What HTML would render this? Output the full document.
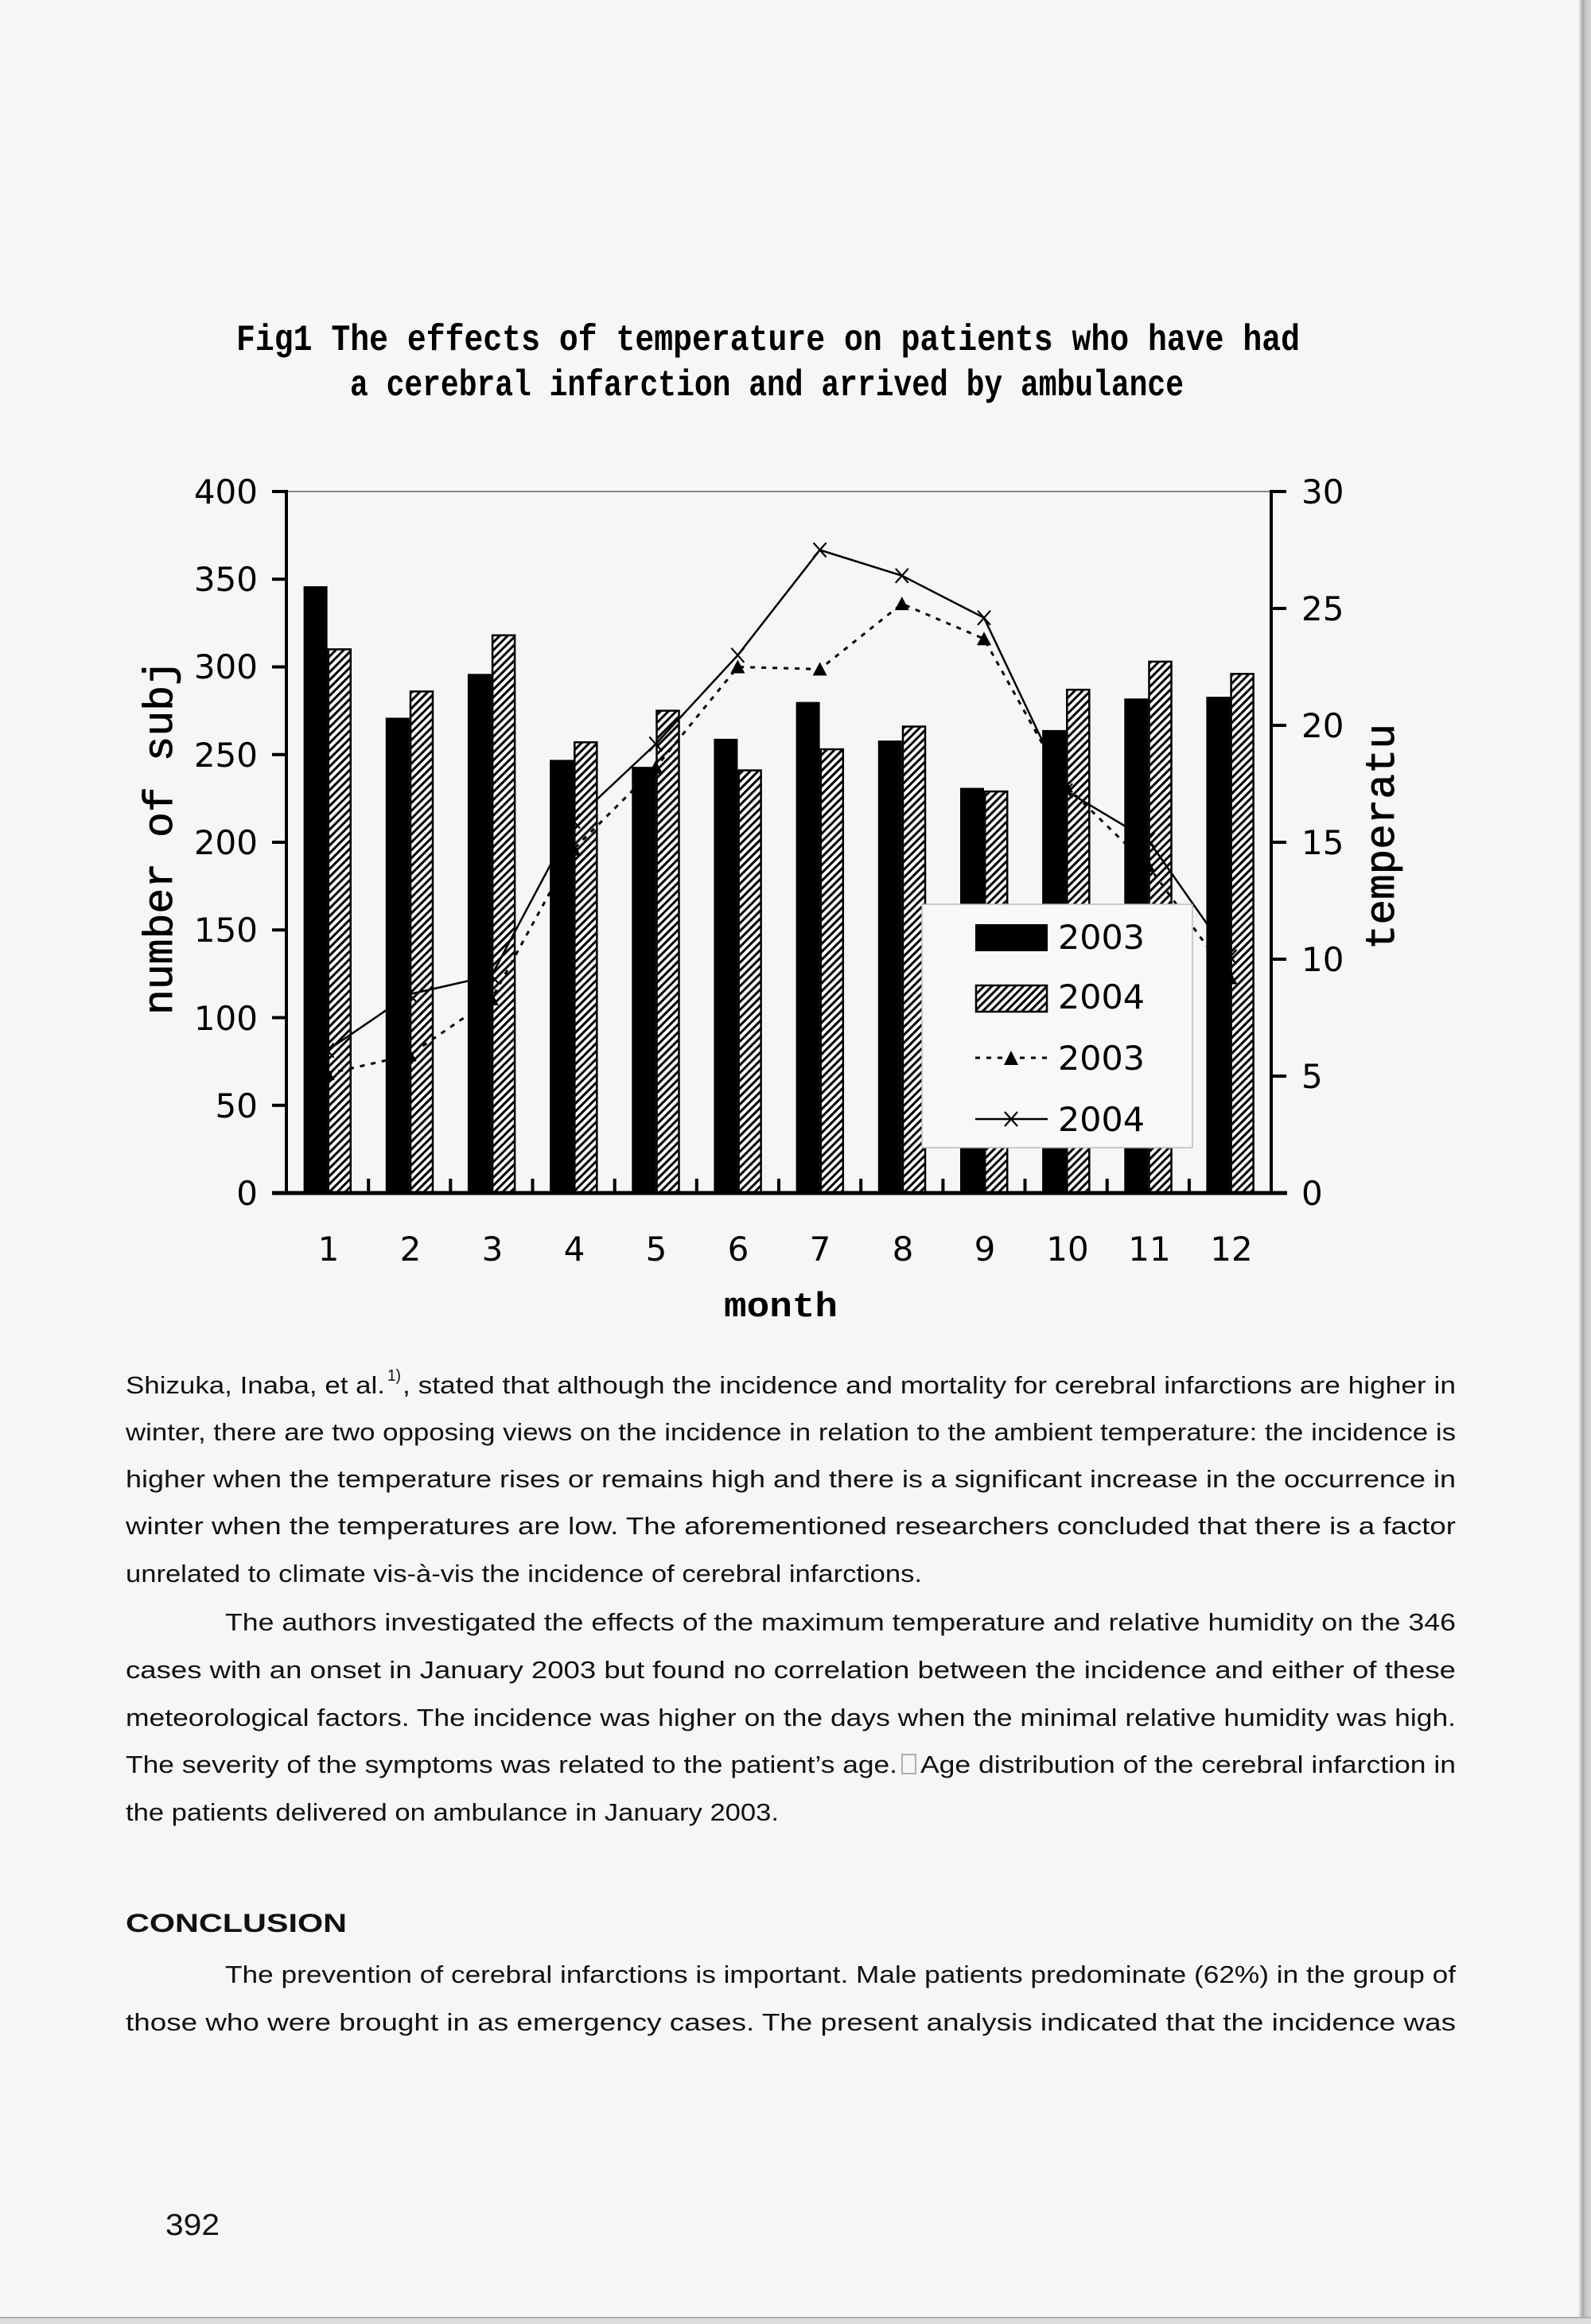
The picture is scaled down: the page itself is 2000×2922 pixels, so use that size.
<!DOCTYPE html>
<html>
<head>
<meta charset="utf-8">
<style>
html,body{margin:0;padding:0;background:#f6f6f6;}
svg{display:block;}
.title{font-family:"Liberation Mono",monospace;font-weight:bold;font-size:46px;fill:#000;}
.axt{font-family:"Liberation Mono",monospace;font-size:52px;fill:#000;stroke:#000;stroke-width:0.8;}
.mon{font-family:"Liberation Mono",monospace;font-weight:bold;font-size:44px;fill:#000;}
.ax{font-family:"DejaVu Sans","Liberation Sans",sans-serif;font-size:42px;fill:#000;}
.body{font-family:"Liberation Sans Narrow","Liberation Sans",Arial,sans-serif;font-size:31px;fill:#111;}
.bold{font-family:"Liberation Sans Narrow","Liberation Sans",Arial,sans-serif;font-size:32px;font-weight:bold;fill:#111;}
</style>
</head>
<body>
<svg width="2000" height="2922" viewBox="0 0 2000 2922" xmlns="http://www.w3.org/2000/svg">
<defs>
  <pattern id="h" patternUnits="userSpaceOnUse" width="7" height="7" patternTransform="rotate(45)">
    <rect x="0" y="0" width="7" height="7" fill="#fafafa"/>
    <rect x="0" y="0" width="3" height="7" fill="#000"/>
  </pattern>
  <linearGradient id="edge" x1="0" y1="0" x2="1" y2="0">
    <stop offset="0" stop-color="#f6f6f6"/>
    <stop offset="0.35" stop-color="#a8a8a8"/>
    <stop offset="0.55" stop-color="#c4c4c4"/>
    <stop offset="1" stop-color="#d6d6d6"/>
  </linearGradient>
</defs>
<rect x="0" y="0" width="2000" height="2922" fill="#f6f6f6"/>

<!-- Title -->
<text class="title" x="297" y="440" textLength="1337" lengthAdjust="spacingAndGlyphs">Fig1 The effects of temperature on patients who have had</text>
<text class="title" x="440" y="497" textLength="1048" lengthAdjust="spacingAndGlyphs">a cerebral infarction and arrived by ambulance</text>

<!-- plot top border -->
<line x1="360" y1="618" x2="1598" y2="618" stroke="#888" stroke-width="2"/>

<!-- 2003 bars (black) -->
<g fill="#000">
<rect x="381.6" y="737.1" width="30" height="762.9"/>
<rect x="484.8" y="902.4" width="30" height="597.6"/>
<rect x="587.9" y="847.3" width="30" height="652.7"/>
<rect x="691.1" y="955.4" width="30" height="544.6"/>
<rect x="794.3" y="964.2" width="30" height="535.8"/>
<rect x="897.4" y="928.9" width="30" height="571.1"/>
<rect x="1000.6" y="882.6" width="30" height="617.4"/>
<rect x="1103.8" y="931.1" width="30" height="568.9"/>
<rect x="1207.0" y="990.6" width="30" height="509.4"/>
<rect x="1310.1" y="917.9" width="30" height="582.1"/>
<rect x="1413.3" y="878.2" width="30" height="621.8"/>
<rect x="1516.4" y="876.0" width="30" height="624.0"/>
</g>
<!-- 2004 bars (hatched) -->
<g fill="url(#h)" stroke="#000" stroke-width="2.5">
<rect x="412.8" y="816.4" width="28" height="683.6"/>
<rect x="516.0" y="869.4" width="28" height="630.6"/>
<rect x="619.1" y="798.8" width="28" height="701.2"/>
<rect x="722.3" y="933.3" width="28" height="566.7"/>
<rect x="825.5" y="893.6" width="28" height="606.4"/>
<rect x="928.6" y="968.6" width="28" height="531.4"/>
<rect x="1031.8" y="942.1" width="28" height="557.9"/>
<rect x="1135.0" y="913.5" width="28" height="586.5"/>
<rect x="1238.2" y="995.1" width="28" height="504.9"/>
<rect x="1341.3" y="867.2" width="28" height="632.8"/>
<rect x="1444.5" y="831.9" width="28" height="668.1"/>
<rect x="1547.6" y="847.3" width="28" height="652.7"/>
</g>

<!-- 2003 temperature (dotted, triangles) -->
<polyline fill="none" stroke="#000" stroke-width="3" stroke-dasharray="6 8"
 points="411.6,1350.1 514.8,1326.5 617.9,1256.0 721.1,1067.8 824.3,964.9 927.4,838.5 1030.6,841.4 1133.8,759.1 1237.0,803.2 1340.1,988.4 1443.3,1088.4 1546.4,1229.5"/>
<g fill="#000">
<polygon points="402.6,1358.1 420.6,1358.1 411.6,1341.1"/>
<polygon points="505.8,1334.5 523.8,1334.5 514.8,1317.5"/>
<polygon points="608.9,1264.0 626.9,1264.0 617.9,1247.0"/>
<polygon points="712.1,1075.8 730.1,1075.8 721.1,1058.8"/>
<polygon points="815.3,972.9 833.3,972.9 824.3,955.9"/>
<polygon points="918.4,846.5 936.4,846.5 927.4,829.5"/>
<polygon points="1021.6,849.4 1039.6,849.4 1030.6,832.4"/>
<polygon points="1124.8,767.1 1142.8,767.1 1133.8,750.1"/>
<polygon points="1228.0,811.2 1246.0,811.2 1237.0,794.2"/>
<polygon points="1331.1,996.4 1349.1,996.4 1340.1,979.4"/>
<polygon points="1434.3,1096.4 1452.3,1096.4 1443.3,1079.4"/>
<polygon points="1537.4,1237.5 1555.4,1237.5 1546.4,1220.5"/>
</g>

<!-- 2004 temperature (solid, x markers) -->
<polyline fill="none" stroke="#000" stroke-width="2.5"
 points="411.6,1320.7 514.8,1250.1 617.9,1226.6 721.1,1032.5 824.3,935.5 927.4,823.8 1030.6,691.5 1133.8,723.8 1237.0,776.8 1340.1,994.3 1443.3,1056.1 1546.4,1203.1"/>
<g stroke="#000" stroke-width="2.2" fill="none">
<path d="M403.6 1311.7 L419.6 1329.7 M419.6 1311.7 L403.6 1329.7"/>
<path d="M506.8 1241.1 L522.8 1259.1 M522.8 1241.1 L506.8 1259.1"/>
<path d="M609.9 1217.6 L625.9 1235.6 M625.9 1217.6 L609.9 1235.6"/>
<path d="M713.1 1023.5 L729.1 1041.5 M729.1 1023.5 L713.1 1041.5"/>
<path d="M816.3 926.5 L832.3 944.5 M832.3 926.5 L816.3 944.5"/>
<path d="M919.4 814.8 L935.4 832.8 M935.4 814.8 L919.4 832.8"/>
<path d="M1022.6 682.5 L1038.6 700.5 M1038.6 682.5 L1022.6 700.5"/>
<path d="M1125.8 714.8 L1141.8 732.8 M1141.8 714.8 L1125.8 732.8"/>
<path d="M1229.0 767.8 L1245.0 785.8 M1245.0 767.8 L1229.0 785.8"/>
<path d="M1332.1 985.3 L1348.1 1003.3 M1348.1 985.3 L1332.1 1003.3"/>
<path d="M1435.3 1047.1 L1451.3 1065.1 M1451.3 1047.1 L1435.3 1065.1"/>
<path d="M1538.4 1194.1 L1554.4 1212.1 M1554.4 1194.1 L1538.4 1212.1"/>
</g>

<!-- Axes -->
<g stroke="#000" stroke-width="4" fill="none">
<line x1="360" y1="616" x2="360" y2="1502"/>
<line x1="1598" y1="616" x2="1598" y2="1502"/>
<line x1="342" y1="1500" x2="1618" y2="1500" stroke-width="5"/>
<!-- left ticks -->
<line x1="342" y1="618" x2="360" y2="618"/>
<line x1="342" y1="728.25" x2="360" y2="728.25"/>
<line x1="342" y1="838.5" x2="360" y2="838.5"/>
<line x1="342" y1="948.75" x2="360" y2="948.75"/>
<line x1="342" y1="1059" x2="360" y2="1059"/>
<line x1="342" y1="1169.25" x2="360" y2="1169.25"/>
<line x1="342" y1="1279.5" x2="360" y2="1279.5"/>
<line x1="342" y1="1389.75" x2="360" y2="1389.75"/>
<!-- right ticks -->
<line x1="1598" y1="618" x2="1617" y2="618"/>
<line x1="1598" y1="765" x2="1617" y2="765"/>
<line x1="1598" y1="912" x2="1617" y2="912"/>
<line x1="1598" y1="1059" x2="1617" y2="1059"/>
<line x1="1598" y1="1206" x2="1617" y2="1206"/>
<line x1="1598" y1="1353" x2="1617" y2="1353"/>
<!-- category ticks -->
<line x1="463.2" y1="1482" x2="463.2" y2="1500"/>
<line x1="566.3" y1="1482" x2="566.3" y2="1500"/>
<line x1="669.5" y1="1482" x2="669.5" y2="1500"/>
<line x1="772.7" y1="1482" x2="772.7" y2="1500"/>
<line x1="875.8" y1="1482" x2="875.8" y2="1500"/>
<line x1="979.0" y1="1482" x2="979.0" y2="1500"/>
<line x1="1082.2" y1="1482" x2="1082.2" y2="1500"/>
<line x1="1185.4" y1="1482" x2="1185.4" y2="1500"/>
<line x1="1288.5" y1="1482" x2="1288.5" y2="1500"/>
<line x1="1391.7" y1="1482" x2="1391.7" y2="1500"/>
<line x1="1494.9" y1="1482" x2="1494.9" y2="1500"/>
</g>

<!-- left tick labels -->
<g class="ax" text-anchor="end">
<text x="324" y="633">400</text>
<text x="324" y="743">350</text>
<text x="324" y="853">300</text>
<text x="324" y="964">250</text>
<text x="324" y="1074">200</text>
<text x="324" y="1184">150</text>
<text x="324" y="1295">100</text>
<text x="324" y="1405">50</text>
<text x="324" y="1515">0</text>
</g>
<!-- right tick labels -->
<g class="ax" text-anchor="start">
<text x="1636" y="633">30</text>
<text x="1636" y="780">25</text>
<text x="1636" y="927">20</text>
<text x="1636" y="1074">15</text>
<text x="1636" y="1221">10</text>
<text x="1636" y="1368">5</text>
<text x="1636" y="1515">0</text>
</g>
<!-- x labels -->
<g class="ax" text-anchor="middle">
<text x="413" y="1585">1</text>
<text x="516" y="1585">2</text>
<text x="619" y="1585">3</text>
<text x="722" y="1585">4</text>
<text x="825" y="1585">5</text>
<text x="928" y="1585">6</text>
<text x="1031" y="1585">7</text>
<text x="1135" y="1585">8</text>
<text x="1238" y="1585">9</text>
<text x="1342" y="1585">10</text>
<text x="1445" y="1585">11</text>
<text x="1548" y="1585">12</text>
</g>

<!-- axis titles -->
<text class="axt" transform="translate(216,1053) rotate(-90)" text-anchor="middle" textLength="446" lengthAdjust="spacingAndGlyphs">number of subj</text>
<text class="axt" transform="translate(1752,1052) rotate(-90)" text-anchor="middle" textLength="284" lengthAdjust="spacingAndGlyphs">temperatu</text>
<text class="mon" x="910" y="1655" textLength="143" lengthAdjust="spacingAndGlyphs">month</text>

<!-- Legend -->
<rect x="1159" y="1137" width="340" height="306" fill="#f8f8f8" stroke="#bbb" stroke-width="1.5"/>
<rect x="1226" y="1162" width="91" height="34" fill="#000"/>
<rect x="1227" y="1239" width="89" height="33" fill="url(#h)" stroke="#000" stroke-width="2.5"/>
<line x1="1226" y1="1330" x2="1317" y2="1330" stroke="#000" stroke-width="3" stroke-dasharray="6 8"/>
<polygon points="1262,1339 1280,1339 1271,1321" fill="#000"/>
<line x1="1226" y1="1407" x2="1317" y2="1407" stroke="#000" stroke-width="2.5"/>
<path d="M1263 1398 L1279 1416 M1279 1398 L1263 1416" stroke="#000" stroke-width="2.2"/>
<g class="ax" font-size="43">
<text x="1330" y="1193" textLength="109" lengthAdjust="spacingAndGlyphs">2003</text>
<text x="1330" y="1268" textLength="109" lengthAdjust="spacingAndGlyphs">2004</text>
<text x="1330" y="1345" textLength="109" lengthAdjust="spacingAndGlyphs">2003</text>
<text x="1330" y="1422" textLength="109" lengthAdjust="spacingAndGlyphs">2004</text>
</g>

<!-- Body text paragraph 1 -->
<g class="body">
<text x="158" y="1752" textLength="326" lengthAdjust="spacingAndGlyphs">Shizuka, Inaba, et al.</text>
<text x="487" y="1736" font-size="20" textLength="17" lengthAdjust="spacingAndGlyphs">1)</text>
<text x="506" y="1752" textLength="1324" lengthAdjust="spacingAndGlyphs">, stated that although the incidence and mortality for cerebral infarctions are higher in</text>
<text x="158" y="1811" textLength="1672" lengthAdjust="spacingAndGlyphs">winter, there are two opposing views on the incidence in relation to the ambient temperature: the incidence is</text>
<text x="158" y="1870" textLength="1672" lengthAdjust="spacingAndGlyphs">higher when the temperature rises or remains high and there is a significant increase in the occurrence in</text>
<text x="158" y="1929" textLength="1672" lengthAdjust="spacingAndGlyphs">winter when the temperatures are low. The aforementioned researchers concluded that there is a factor</text>
<text x="158" y="1989" textLength="1001" lengthAdjust="spacingAndGlyphs">unrelated to climate vis-à-vis the incidence of cerebral infarctions.</text>

<!-- paragraph 2 -->
<text x="283" y="2050" textLength="1547" lengthAdjust="spacingAndGlyphs">The authors investigated the effects of the maximum temperature and relative humidity on the 346</text>
<text x="158" y="2110" textLength="1672" lengthAdjust="spacingAndGlyphs">cases with an onset in January 2003 but found no correlation between the incidence and either of these</text>
<text x="158" y="2170" textLength="1672" lengthAdjust="spacingAndGlyphs">meteorological factors. The incidence was higher on the days when the minimal relative humidity was high.</text>
<text x="158" y="2229" textLength="970" lengthAdjust="spacingAndGlyphs">The severity of the symptoms was related to the patient’s age.</text>
<text x="1157" y="2229" textLength="673" lengthAdjust="spacingAndGlyphs">Age distribution of the cerebral infarction in</text>
<text x="158" y="2289" textLength="821" lengthAdjust="spacingAndGlyphs">the patients delivered on ambulance in January 2003.</text>
</g>
<rect x="1134" y="2206" width="17" height="24" fill="none" stroke="#999" stroke-width="1.5"/>

<text class="bold" x="158" y="2429" textLength="278" lengthAdjust="spacingAndGlyphs">CONCLUSION</text>

<g class="body">
<text x="283" y="2493" textLength="1547" lengthAdjust="spacingAndGlyphs">The prevention of cerebral infarctions is important. Male patients predominate (62%) in the group of</text>
<text x="158" y="2553" textLength="1672" lengthAdjust="spacingAndGlyphs">those who were brought in as emergency cases. The present analysis indicated that the incidence was</text>
<text x="208" y="2810" font-size="38" textLength="68" lengthAdjust="spacingAndGlyphs">392</text>
</g>

<!-- page edges -->
<rect x="1984" y="0" width="16" height="2922" fill="url(#edge)"/>
<rect x="0" y="2913" width="2000" height="9" fill="#dcdcdc"/>
<line x1="0" y1="2914" x2="2000" y2="2914" stroke="#b0b0b0" stroke-width="2"/>
</svg>
</body>
</html>
